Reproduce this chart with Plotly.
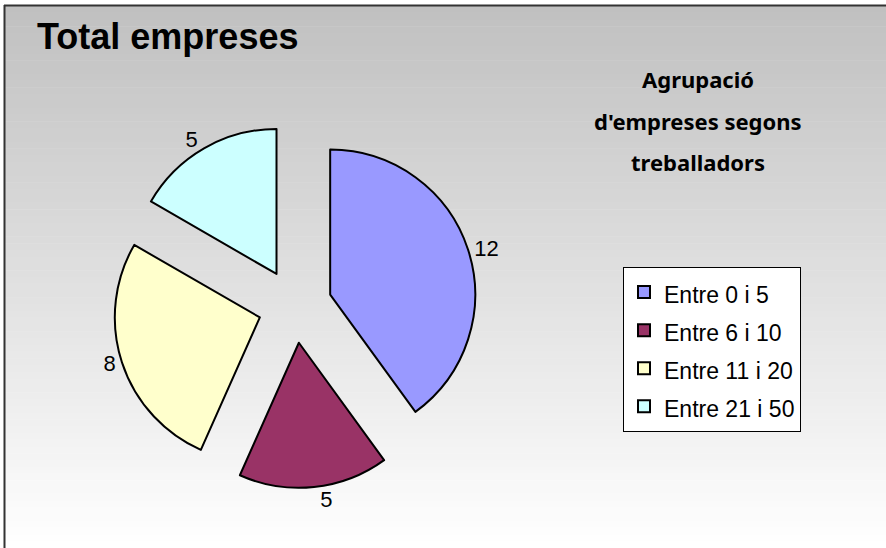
import plotly.graph_objects as go

# dades
categories = ['Entre 0 i 5', 'Entre 6 i 10', 'Entre 11 i 20', 'Entre 21 i 50']
empreses = [12, 5, 8, 5]
colors = ['#9999FF', '#993366', '#FFFFCC', '#CCFFFF']
subtitle_lines = ["Agrupació", "d'empreses segons", "treballadors"]

W, H = 886, 548


def px(x):
    return x / W


def py(y):
    return 1 - y / H


fig = go.Figure()

fig.add_trace(go.Pie(
    labels=[f'<span style="font-size:23px">{c}</span>' for c in categories],
    values=empreses,
    sort=False,
    direction='clockwise',
    rotation=0,
    pull=[0.255] * len(empreses),
    marker=dict(colors=colors, line=dict(color='black', width=2)),
    textinfo='value',
    textposition='outside',
    outsidetextfont=dict(family='Arial, Liberation Sans', size=22, color='black'),
    domain=dict(x=[px(295 - 182), px(295 + 182)], y=[py(306 + 182), py(306 - 182)]),
    hoverinfo='label+value',
))

# fons en degradat (gris a dalt, blanc a baix)
shapes = []
n = 80
top, bottom = 6, H
for i in range(n):
    y0 = top + (bottom - top) * i / n
    y1 = top + (bottom - top) * (i + 1) / n + 0.5
    g = int(round(192 + (255 - 192) * (i + 0.5) / n))
    shapes.append(dict(type='rect', xref='paper', yref='paper', layer='below',
                       x0=px(5), x1=1, y0=py(y1), y1=py(y0),
                       fillcolor=f'rgb({g},{g},{g})', line=dict(width=0)))
# marc
shapes.append(dict(type='line', xref='paper', yref='paper', layer='above',
                   x0=px(4), x1=1, y0=py(5.5), y1=py(5.5),
                   line=dict(color='#333333', width=2)))
shapes.append(dict(type='line', xref='paper', yref='paper', layer='above',
                   x0=px(4.5), x1=px(4.5), y0=0, y1=py(5),
                   line=dict(color='#333333', width=2)))

annotations = [dict(
    text='<b>Total empreses</b>', xref='paper', yref='paper',
    x=px(35), y=py(36), xanchor='left', yanchor='middle', showarrow=False,
    font=dict(family='Arial, Liberation Sans', size=36, color='black'),
)]
for line, yc in zip(subtitle_lines, [79, 121, 162]):
    annotations.append(dict(
        text=f'<b>{line}</b>', xref='paper', yref='paper',
        x=px(698), y=py(yc), xanchor='center', yanchor='middle', showarrow=False,
        font=dict(family='Comic Sans MS, Noto Sans, sans-serif', size=22, color='black'),
    ))

fig.update_layout(
    width=W, height=H,
    autosize=False,
    margin=dict(l=0, r=0, t=0, b=0, autoexpand=False),
    paper_bgcolor='white',
    shapes=shapes,
    annotations=annotations,
    showlegend=True,
    legend=dict(
        x=px(623), y=py(267), xanchor='left', yanchor='top',
        bgcolor='white', bordercolor='black', borderwidth=1,
        font=dict(family='Arial, Liberation Sans', size=27, color='black'),
        itemclick=False,
    ),
)

fig.write_html("out.html", config={'responsive': False, 'displayModeBar': False},
               post_script="document.body.style.margin='0';document.body.style.overflow='hidden';")
